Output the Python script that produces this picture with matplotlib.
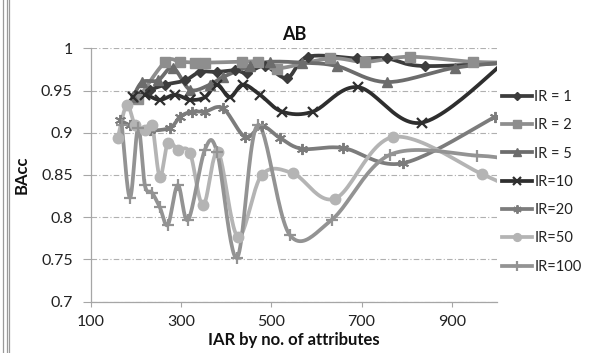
import numpy as np
import matplotlib
matplotlib.use("Agg")
import matplotlib.pyplot as plt
from matplotlib.lines import Line2D

plt.rcParams['font.family'] = ['Lato', 'DejaVu Sans']

# ---- data (IAR by no. of attributes, BAcc) ----
ir1_x = [198, 231, 265, 309, 342, 380, 420, 446, 486, 535, 581, 690, 756, 840, 1060]
ir1_y = [0.945, 0.951, 0.957, 0.962, 0.972, 0.972, 0.974, 0.971, 0.979, 0.965, 0.990, 0.988, 0.988, 0.979, 0.984]

ir2_x = [205, 265, 298, 331, 353, 435, 470, 512, 630, 708, 807, 947, 1060]
ir2_y = [0.940, 0.984, 0.984, 0.983, 0.983, 0.984, 0.984, 0.976, 0.988, 0.984, 0.990, 0.984, 0.983]

ir5_x = [194, 214, 249, 282, 320, 364, 393, 453, 497, 568, 645, 756, 907, 1060]
ir5_y = [0.942, 0.960, 0.962, 0.977, 0.951, 0.957, 0.966, 0.979, 0.984, 0.983, 0.979, 0.960, 0.977, 0.985]

ir10_x = [194, 220, 253, 287, 320, 353, 380, 408, 437, 475, 524, 592, 692, 834, 1030]
ir10_y = [0.942, 0.945, 0.939, 0.945, 0.939, 0.942, 0.957, 0.942, 0.957, 0.945, 0.925, 0.925, 0.954, 0.912, 0.990]

ir20_x = [165, 187, 231, 276, 298, 324, 353, 393, 442, 479, 519, 568, 659, 792, 996]
ir20_y = [0.915, 0.909, 0.903, 0.906, 0.919, 0.925, 0.925, 0.929, 0.895, 0.908, 0.894, 0.881, 0.882, 0.864, 0.919]

ir50_x = [160, 180, 198, 220, 236, 253, 271, 293, 320, 349, 382, 426, 479, 548, 641, 770, 967, 1030]
ir50_y = [0.894, 0.933, 0.909, 0.903, 0.909, 0.848, 0.888, 0.880, 0.876, 0.814, 0.877, 0.777, 0.850, 0.852, 0.822, 0.895, 0.851, 0.835]

ir100_x = [169, 187, 205, 220, 236, 253, 271, 293, 316, 353, 380, 424, 470, 541, 634, 763, 956, 1030]
ir100_y = [0.909, 0.823, 0.906, 0.838, 0.829, 0.812, 0.791, 0.838, 0.797, 0.880, 0.877, 0.752, 0.909, 0.779, 0.797, 0.874, 0.873, 0.868]

labels = ["IR = 1", "IR = 2", "IR = 5", "IR=10", "IR=20", "IR=50", "IR=100"]
xticks = [100, 300, 500, 700, 900]
yticks = [0.7, 0.75, 0.8, 0.85, 0.9, 0.95, 1.0]
ytick_labels = ["0.7", "0.75", "0.8", "0.85", "0.9", "0.95", "1"]


def smooth(x, y, n=24):
    P = np.column_stack([np.asarray(x, float), np.asarray(y, float)])
    ext = np.vstack([P[0], P, P[-1]])
    t = np.linspace(0, 1, n, endpoint=False)[:, None]
    out = []
    for i in range(len(P) - 1):
        p0, p1, p2, p3 = ext[i], ext[i + 1], ext[i + 2], ext[i + 3]
        c1 = p1 + (p2 - p0) / 6.0
        c2 = p2 - (p3 - p1) / 6.0
        seg = ((1 - t) ** 3) * p1 + 3 * ((1 - t) ** 2) * t * c1 + 3 * (1 - t) * t ** 2 * c2 + t ** 3 * p2
        out.append(seg)
    out.append(P[-1:])
    S = np.vstack(out)
    return S[:, 0], S[:, 1]


series = [
    (ir1_x, ir1_y, '#3c3c3c', 'D', 5.5, 1.0),
    (ir2_x, ir2_y, '#8e8e8e', 's', 7.0, 1.0),
    (ir5_x, ir5_y, '#6c6c6c', '^', 7.5, 1.0),
    (ir10_x, ir10_y, '#2e2e2e', 'x', 7.0, 1.6),
    (ir20_x, ir20_y, '#7c7c7c', (6, 2, 0), 8.0, 1.4),
    (ir50_x, ir50_y, '#b4b4b4', 'o', 7.5, 1.0),
    (ir100_x, ir100_y, '#939393', '+', 9.0, 1.6),
]

fig = plt.figure(figsize=(5.9, 3.53), dpi=100)
ax = fig.add_axes([0.1537, 0.1453, 0.8424 - 0.1537, 0.8632 - 0.1453])

handles = []
for (x, y, c, m, ms, mew), lab in zip(series, labels):
    sx, sy = smooth(x, y)
    ax.plot(sx, sy, color=c, lw=2.7, solid_capstyle='round', solid_joinstyle='round', zorder=3)
    ax.plot(x, y, ls='none', marker=m, ms=ms, color=c, mec=c, mew=mew, zorder=4)
    handles.append(Line2D([0], [0], color=c, lw=2.7, marker=m, ms=ms * 0.75, mec=c, mew=mew, label=lab))

ax.set_xlim(100, 1000)
ax.set_ylim(0.7, 1.0)
ax.set_xticks(xticks)
ax.set_xticklabels([str(v) for v in xticks])
ax.set_yticks(yticks)
ax.set_yticklabels(ytick_labels)
ax.tick_params(axis='both', labelsize=11.5, colors='#a6a6a6', width=0.8)
ax.tick_params(axis='x', labelcolor='#222222', length=3.6, pad=6)
ax.tick_params(axis='y', labelcolor='#222222', length=6, pad=7)
for s in ['top', 'right']:
    ax.spines[s].set_visible(False)
for s in ['left', 'bottom']:
    ax.spines[s].set_color('#a6a6a6')
    ax.spines[s].set_linewidth(0.9)
ax.yaxis.grid(True, linestyle=(0, (5, 2, 1, 2)), color='#b0b0b0', lw=0.8)
ax.set_axisbelow(True)

ax.set_title("AB", fontsize=13, fontweight='bold', pad=6, color='#111111')
ax.set_xlabel("IAR by no. of attributes", fontsize=12, fontweight='bold', labelpad=2, color='#111111')
ax.set_ylabel("BAcc", fontsize=12, fontweight='bold', labelpad=8, color='#111111')

leg = fig.legend(handles=handles, loc='upper left', bbox_to_anchor=(0.851, 0.745),
                 frameon=False, fontsize=10.5, handlelength=2.05, handletextpad=0.15,
                 labelspacing=0.98, borderaxespad=0, borderpad=0)
for t in leg.get_texts():
    t.set_color('#222222')

for xp in [2.5, 6.5, 8.5]:
    fig.add_artist(Line2D([xp / 590, xp / 590], [0, 1], transform=fig.transFigure,
                          color='#9a9a9a', lw=0.9))

fig.savefig("out.png", dpi=100)
